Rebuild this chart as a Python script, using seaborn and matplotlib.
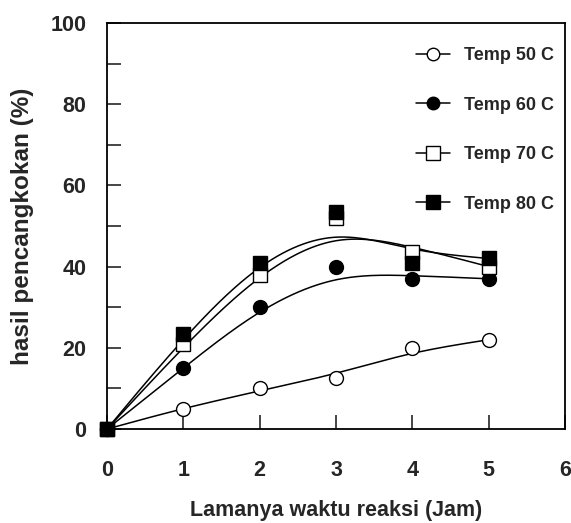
import numpy as np
import pandas as pd
import matplotlib
matplotlib.use("Agg")
import matplotlib.pyplot as plt
from matplotlib.lines import Line2D
from matplotlib.ticker import MultipleLocator
import seaborn as sns

# data
jam = [0, 1, 2, 3, 4, 5]
temp_50 = [0, 5, 10, 12.5, 20, 22]
temp_60 = [0, 15, 30, 40, 37, 37]
temp_70 = [0, 21, 38, 52, 43.5, 40]
temp_80 = [0, 23.5, 41, 53.5, 41, 42]
labels = ["Temp 50 C", "Temp 60 C", "Temp 70 C", "Temp 80 C"]


def smooth_curve(x, y, xs):
    # light 3-point smoothing, then a natural cubic spline through it
    x = np.asarray(x, float)
    y = np.asarray(y, float)
    a = y.copy()
    a[1:-1] = 0.25 * y[:-2] + 0.5 * y[1:-1] + 0.25 * y[2:]
    n = len(x)
    h = np.diff(x)
    A = np.zeros((n, n))
    r = np.zeros(n)
    A[0, 0] = A[-1, -1] = 1
    for i in range(1, n - 1):
        A[i, i - 1] = h[i - 1]
        A[i, i] = 2 * (h[i - 1] + h[i])
        A[i, i + 1] = h[i]
        r[i] = 3 * ((a[i + 1] - a[i]) / h[i] - (a[i] - a[i - 1]) / h[i - 1])
    c = np.linalg.solve(A, r)
    b = (a[1:] - a[:-1]) / h - h * (2 * c[:-1] + c[1:]) / 3
    d = (c[1:] - c[:-1]) / (3 * h)
    k = np.clip(np.searchsorted(x, xs, side="right") - 1, 0, n - 2)
    t = xs - x[k]
    return a[k] + b[k] * t + c[k] * t ** 2 + d[k] * t ** 3


sns.set_style("ticks")
plt.rcParams["font.family"] = ["Liberation Sans", "DejaVu Sans"]
plt.rcParams["font.weight"] = "bold"

fig = plt.figure(figsize=(5.71, 5.23), dpi=100)
ax = fig.add_axes([0.1874, 0.1797, 0.8021, 0.7763])

series = [temp_50, temp_60, temp_70, temp_80]
styles = [("o", "white"), ("o", "black"), ("s", "white"), ("s", "black")]
sizes = [10, 10, 10.5, 10.5]

xs = np.linspace(0, 5, 300)
handles = []
for vals, (mk, fc), ms, lab in zip(series, styles, sizes, labels):
    fit = pd.DataFrame({"x": xs, "y": smooth_curve(jam, vals, xs)})
    sns.lineplot(data=fit, x="x", y="y", ax=ax, color="black", linewidth=1.1)
    ax.plot(jam, vals, linestyle="none", marker=mk, markersize=ms,
            markerfacecolor=fc, markeredgecolor="black", markeredgewidth=1,
            clip_on=False, zorder=5)
    handles.append(Line2D([0], [0], color="black", linewidth=1.1, marker=mk,
                          markersize=ms - 1, markerfacecolor=fc,
                          markeredgecolor="black"))

ax.set_xlim(0, 6)
ax.set_ylim(0, 100)
ax.xaxis.set_major_locator(MultipleLocator(1))
ax.yaxis.set_major_locator(MultipleLocator(20))
ax.yaxis.set_minor_locator(MultipleLocator(10))
ax.tick_params(axis="both", which="both", direction="in", length=10,
               width=1.2, labelsize=15.5)
ax.tick_params(axis="x", pad=22)
ax.tick_params(axis="y", pad=15)
for t in ax.get_xticklabels() + ax.get_yticklabels():
    t.set_fontweight("bold")
for s in ax.spines.values():
    s.set_linewidth(1.3)
    s.set_color("black")

ax.set_xlabel("Lamanya waktu reaksi (Jam)", fontsize=15.5, fontweight="bold", labelpad=14)
ax.set_ylabel("hasil pencangkokan (%)", fontsize=17.5, fontweight="bold", labelpad=12)

ax.legend(handles, labels, loc="upper right", bbox_to_anchor=(0.992, 0.958),
          frameon=False, labelspacing=1.8, handlelength=1.85, handletextpad=0.8,
          borderaxespad=0, prop={"weight": "bold", "size": 13})

fig.savefig("out.png", dpi=100)
